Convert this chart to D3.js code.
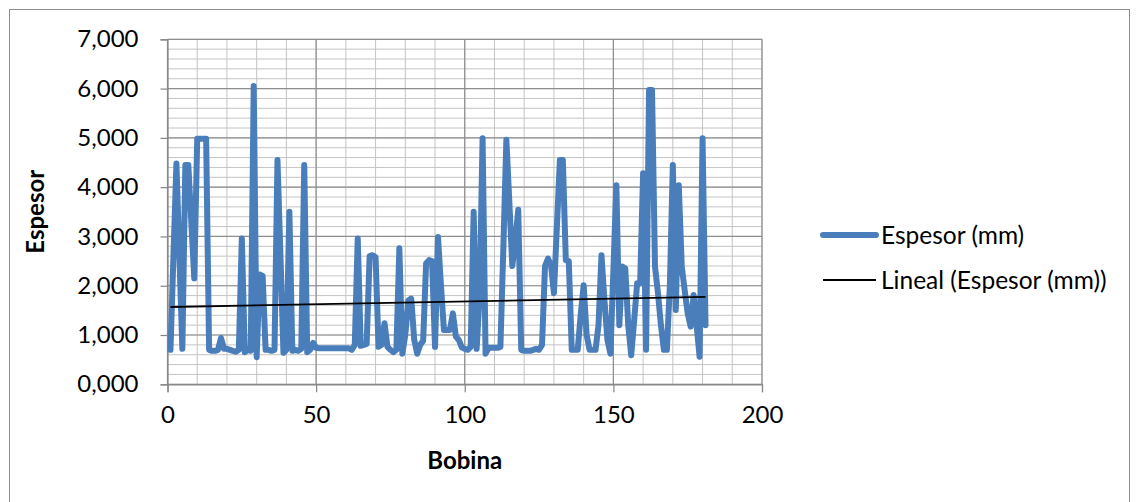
<!DOCTYPE html>
<html>
<head>
<meta charset="utf-8">
<script src="https://cdn.jsdelivr.net/npm/d3@7"></script>
<style>
    body { margin: 0; background: #fff; }
    svg text { font-family: Lato, "Open Sans", sans-serif; fill: #000; }
</style>
</head>
<body>
<svg id="chart" width="1139" height="502"></svg>
<script>
// Espesor (mm) per bobina, bobina = 1..181
const espesor = [
    0.70, 2.60, 4.48, 2.60, 0.72, 4.45, 4.45, 3.30, 2.15, 4.98,
    4.98, 4.98, 4.98, 0.70, 0.68, 0.68, 0.70, 0.94, 0.72, 0.72,
    0.70, 0.68, 0.66, 0.70, 2.96, 0.65, 0.70, 0.68, 6.05, 0.55,
    2.23, 2.20, 0.70, 0.70, 0.68, 0.70, 4.55, 2.60, 0.64, 0.70,
    3.50, 0.68, 0.70, 0.68, 0.72, 4.45, 0.65, 0.70, 0.84, 0.74,
    0.73, 0.73, 0.73, 0.73, 0.73, 0.73, 0.73, 0.73, 0.73, 0.73,
    0.73, 0.70, 0.80, 2.96, 0.78, 0.80, 0.82, 2.60, 2.62, 2.58,
    0.76, 0.80, 1.24, 0.76, 0.70, 0.65, 0.70, 2.76, 0.62, 1.00,
    1.70, 1.74, 0.90, 0.62, 0.80, 0.88, 2.45, 2.52, 2.50, 0.76,
    2.99, 2.00, 1.10, 1.10, 1.10, 1.44, 0.97, 0.90, 0.75, 0.72,
    0.70, 0.76, 3.50, 0.72, 1.80, 4.99, 0.62, 0.74, 0.74, 0.74,
    0.74, 0.76, 2.80, 4.96, 3.70, 2.40, 2.90, 3.54, 0.70, 0.68,
    0.68, 0.68, 0.70, 0.72, 0.70, 0.80, 2.40, 2.55, 2.42, 1.85,
    3.20, 4.55, 4.55, 2.52, 2.50, 0.70, 0.70, 0.70, 1.40, 2.01,
    1.00, 0.70, 0.70, 0.70, 1.20, 2.62, 1.70, 0.90, 0.62, 2.30,
    4.04, 1.20, 2.39, 2.35, 1.20, 0.59, 1.30, 2.05, 2.05, 4.28,
    0.70, 5.97, 5.97, 2.39, 1.85, 1.20, 0.70, 0.70, 2.00, 4.45,
    1.51, 4.04, 2.39, 1.90, 1.44, 1.17, 1.81, 1.20, 0.56, 4.99, 1.20
];

// linear trendline, read at its two ends
const trendX = [1, 181];
const trendY = [1.568, 1.772];

const xTicks = [0, 50, 100, 150, 200];
const yTicks = [0, 1, 2, 3, 4, 5, 6, 7];
const legendLabels = ["Espesor (mm)", "Lineal (Espesor (mm))"];

const blue = "#4a7ebb";

const svg = d3.select("#chart");

// outer chart frame
svg.append("rect")
    .attr("x", 9.5).attr("y", 9.5)
    .attr("width", 1120).attr("height", 500)
    .attr("fill", "none")
    .attr("stroke", "#8c8c8c");

const x = d3.scaleLinear().domain([0, 200]).range([167.5, 762]);
const y = d3.scaleLinear().domain([0, 7]).range([384.3, 39.3]);

const es = d3.formatLocale({ decimal: ",", thousands: ".", grouping: [3], currency: ["", ""] });
const fmt = es.format(".3f");

// minor grid
const grid = svg.append("g");
grid.selectAll("line.ymin")
    .data(d3.range(0, 7.001, 0.2))
    .enter().append("line")
    .attr("x1", x(0)).attr("x2", x(200))
    .attr("y1", d => y(d)).attr("y2", d => y(d))
    .attr("stroke", "#c4c4c4").attr("stroke-width", 1);
grid.selectAll("line.xmin")
    .data(d3.range(0, 201, 10))
    .enter().append("line")
    .attr("y1", y(0)).attr("y2", y(7))
    .attr("x1", d => x(d)).attr("x2", d => x(d))
    .attr("stroke", "#c4c4c4").attr("stroke-width", 1);

// major grid
grid.selectAll("line.ymaj")
    .data(yTicks)
    .enter().append("line")
    .attr("x1", x(0)).attr("x2", x(200))
    .attr("y1", d => y(d)).attr("y2", d => y(d))
    .attr("stroke", "#8e8e8e").attr("stroke-width", 1.2);
grid.selectAll("line.xmaj")
    .data(xTicks)
    .enter().append("line")
    .attr("y1", y(0)).attr("y2", y(7))
    .attr("x1", d => x(d)).attr("x2", d => x(d))
    .attr("stroke", "#8e8e8e").attr("stroke-width", 1.2);

// axes
const yAxis = d3.axisLeft(y).tickValues(yTicks).tickFormat(fmt).tickSize(7).tickPadding(22);
const xAxis = d3.axisBottom(x).tickValues(xTicks).tickSize(8).tickPadding(14);

const gy = svg.append("g").attr("transform", `translate(${x(0)},0)`).call(yAxis);
const gx = svg.append("g").attr("transform", `translate(0,${y(0)})`).call(xAxis);

[gx, gy].forEach(g => {
    g.select(".domain").attr("stroke", "#868686").attr("stroke-width", 1.2);
    g.selectAll(".tick line").attr("stroke", "#868686").attr("stroke-width", 1.2);
    g.selectAll("text").attr("font-size", 24).attr("font-family", "Lato, sans-serif").attr("fill", "#000");
});

// series
const line = d3.line()
    .x((d, i) => x(i + 1))
    .y(d => y(d));

svg.append("path")
    .datum(espesor)
    .attr("d", line)
    .attr("fill", "none")
    .attr("stroke", blue)
    .attr("stroke-width", 6)
    .attr("stroke-linejoin", "round")
    .attr("stroke-linecap", "round");

// trendline
svg.append("line")
    .attr("x1", x(trendX[0])).attr("y1", y(trendY[0]))
    .attr("x2", x(trendX[1])).attr("y2", y(trendY[1]))
    .attr("stroke", "#000")
    .attr("stroke-width", 1.8);

// axis titles
svg.append("text")
    .attr("x", (x(0) + x(200)) / 2).attr("y", 469)
    .attr("text-anchor", "middle")
    .attr("font-size", 24).attr("font-weight", "bold")
    .text("Bobina");

svg.append("text")
    .attr("transform", `translate(44,${(y(0) + y(7)) / 2}) rotate(-90)`)
    .attr("text-anchor", "middle")
    .attr("font-size", 24).attr("font-weight", "bold")
    .text("Espesor");

// legend
const legend = svg.append("g");
legend.append("line")
    .attr("x1", 823).attr("x2", 876).attr("y1", 235).attr("y2", 235)
    .attr("stroke", blue).attr("stroke-width", 6).attr("stroke-linecap", "round");
legend.append("line")
    .attr("x1", 823).attr("x2", 876).attr("y1", 280).attr("y2", 280)
    .attr("stroke", "#000").attr("stroke-width", 1.8);
legend.selectAll("text")
    .data(legendLabels)
    .enter().append("text")
    .attr("x", 881)
    .attr("y", (d, i) => 235 + i * 45)
    .attr("dy", "0.35em")
    .attr("font-size", 24.5)
    .text(d => d);
</script>
</body>
</html>
